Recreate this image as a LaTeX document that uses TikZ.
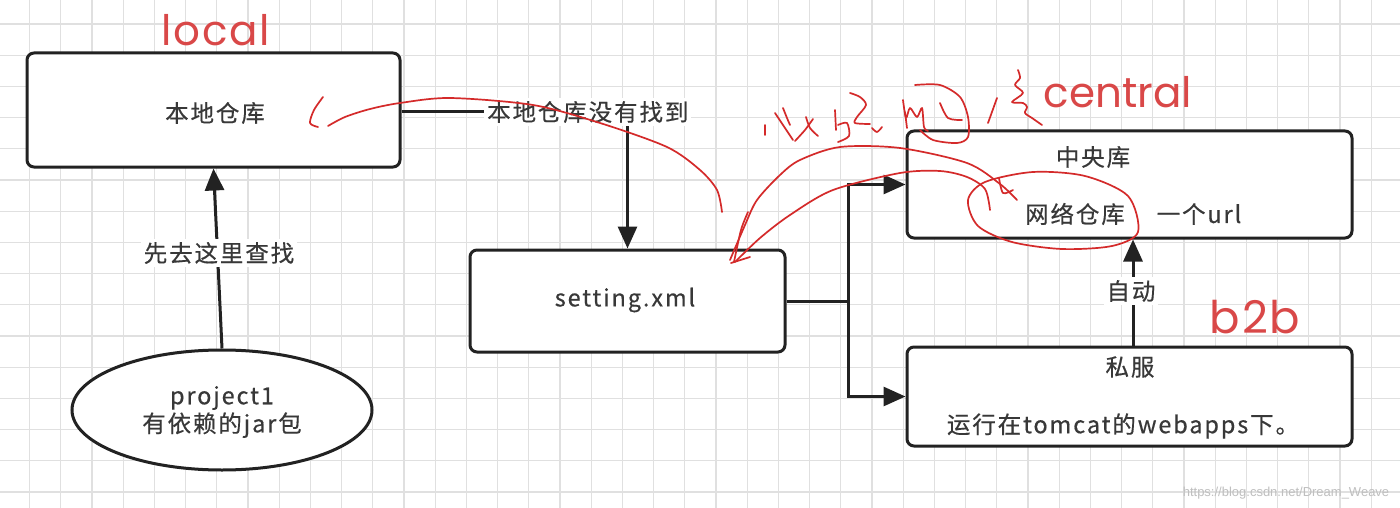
\documentclass[tikz,border=0pt]{standalone}
\usepackage{fontspec}
\setmainfont{Noto Sans CJK SC}[LetterSpace=8,FakeBold=0.4]
\newfontfamily\redfont{Poppins}
\newfontfamily\redfontwide{Poppins}[LetterSpace=4]
\newfontfamily\wmfont{Liberation Sans}
\usetikzlibrary{arrows.meta,shapes.geometric}
\definecolor{txt}{HTML}{383838}
\definecolor{edge}{HTML}{222222}
\definecolor{lblred}{HTML}{D94848}
\definecolor{pen}{HTML}{D42A2A}
\definecolor{gridc}{HTML}{E0E0E0}
\tikzset{
  box/.style={draw=edge,line width=3pt,rounded corners=7pt,fill=white,inner sep=0pt},
  txtnode/.style={text=txt,font=\fontsize{23.5}{28}\selectfont,inner sep=1pt},
  lbl/.style={txtnode,fill=white,inner sep=3pt},
  conn/.style={draw=edge,line width=3pt},
  arr/.style={conn,-{Triangle[length=22pt,width=19pt]}},
  redlbl/.style={text=lblred,inner sep=0pt},
  penline/.style={draw=pen,line width=1.7pt,line cap=round,line join=round}
}
\begin{document}
\begin{tikzpicture}[x=1pt,y=-1pt]
\useasboundingbox (0,0) rectangle (1400,508);
\fill[white] (0,0) rectangle (1400,508);
% grid
\foreach \i in {0,...,44} {\draw[gridc,line width=1.3pt] ({29.6+31.2*\i},0) -- ({29.6+31.2*\i},508);}
\foreach \j in {0,...,16} {\draw[gridc,line width=1.3pt] (0,{24+31.2*\j}) -- (1400,{24+31.2*\j});}

% boxes
\node[box,minimum width=373pt,minimum height=114pt] (local) at (213.5,110) {};
\node[txtnode] (localt) at (215,113) {本地仓库};
\node[box,minimum width=315pt,minimum height=102pt] (setting) at (627.5,301) {};
\node[txtnode] (settingt) at (625,300) {setting.xml};
\node[box,minimum width=445pt,minimum height=107pt] (central) at (1129.5,184.5) {};
\node[txtnode] (centralt) at (1093,157) {中央库};
\node[txtnode] (netrepo) at (1075,214) {网络仓库};
\node[txtnode] (url) at (1199,214) {一个url};
\node[box,minimum width=445pt,minimum height=99pt] (private) at (1129.5,396.5) {};
\node[txtnode] (privatet) at (1130,367) {私服};
\node[txtnode] (privated) at (1123,426) {运行在tomcat的webapps下。};
\node[draw=edge,line width=3pt,fill=white,ellipse,minimum width=300pt,minimum height=120pt,inner sep=0pt] (proj) at (222,410) {};
\node[txtnode,align=center] (projt) at (222,412) {project1\\有依赖的jar包};

% red labels
\node[redlbl,font=\redfontwide\fontsize{42}{46}\selectfont] (lloc) at (216,30) {local};
\node[redlbl,font=\redfont\fontsize{42}{46}\selectfont] (lcen) at (1118,92) {central};
\node[redlbl,font=\redfontwide\fontsize{45}{48}\selectfont] (lb2b) at (1255,317) {b2b};

% connectors
\draw[arr] (proj.north) -- (local.south);
\node[lbl] (first) at (219,253) {先去这里查找};
\node[lbl,anchor=west] (notfound) at (484,112) {本地仓库没有找到};
\draw[conn] (local.east |- notfound.west) -- (notfound.west);
\draw[arr] (notfound.south -| setting.north) -- (setting.north);
\coordinate (j) at (848,301);
\draw[conn] (setting.east) -- (j);
\draw[arr] (j) |- (central.west);
\draw[arr] (j) |- (private.west);
\draw[arr] (private.north -| 1133,0) -- (central.south -| 1133,0);
\node[lbl] (auto) at (1131,291) {自动};

% watermark
\node[text=black!25,font=\wmfont\fontsize{13}{15}\selectfont,inner sep=0pt] (wm) at (1286,493) {https://blog.csdn.net/Dream\_Weave};

% handwriting (red pen)
\draw[penline] plot[smooth] coordinates {(323,97) (314,110) (310,123) (318,127)};
\draw[penline] plot[smooth] coordinates {(328,126) (345,117) (370,109) (400,103) (450,98) (533,105) (600,123) (667,147) (700,170) (717,190) (722,212)};
\draw[penline] plot[smooth] coordinates {(730,260) (745,225) (757,200) (780,175) (800,160) (840,147) (900,148) (967,163) (1000,184) (1017,200)};
\draw[penline] plot[smooth] coordinates {(734,262) (741,230) (748,212)};
\draw[penline] plot[smooth] coordinates {(735,262) (760,238) (790,215) (833,190) (900,173) (940,171) (967,177) (985,189) (990,210)};
\draw[penline] (731,263) -- (750,257);
\draw[penline] plot[smooth cycle] coordinates {(1138,232) (1128,196) (1085,176) (1033,172) (985,182) (968,200) (978,226) (1012,242) (1062,249) (1112,246)};
\draw[penline] plot[smooth] coordinates {(999,178) (1003,193) (1013,190)};
% scribbled words
\draw[penline] (765,125) -- (765,135);
\draw[penline] plot[smooth] coordinates {(775,113) (785,128) (793,140)};
\draw[penline] plot[smooth] coordinates {(783,108) (787,118) (790,125)};
\draw[penline] plot[smooth] coordinates {(795,141) (805,130) (813,119)};
\draw[penline] plot[smooth] coordinates {(806,117) (810,128) (818,136)};
\draw[penline] plot[smooth] coordinates {(835,110) (836,130)};
\draw[penline] plot[smooth] coordinates {(838,125) (847,123) (849,136) (838,142)};
\draw[penline] plot[smooth] coordinates {(850,93) (860,97) (866,105) (857,117) (855,123) (870,124)};
\draw[penline] plot[smooth] coordinates {(872,128) (877,132) (882,127)};
\draw[penline] plot[smooth] coordinates {(903,100) (906,118) (910,108) (917,117) (922,108) (924,127) (928,131)};
\draw[penline] plot[smooth] coordinates {(905,112) (907,128)};
\draw[penline] plot[smooth] coordinates {(915,85) (940,85) (960,97) (968,117) (968,137) (957,143) (933,140) (920,130)};
\draw[penline] plot[smooth] coordinates {(940,103) (948,118) (962,120)};
\draw[penline] (997,98) -- (988,123);
\draw[penline] plot[smooth] coordinates {(1018,70) (1020,78) (1015,85) (1023,93) (1012,102) (1023,103) (1027,107) (1025,113) (1032,118) (1042,125)};
\end{tikzpicture}
\end{document}
